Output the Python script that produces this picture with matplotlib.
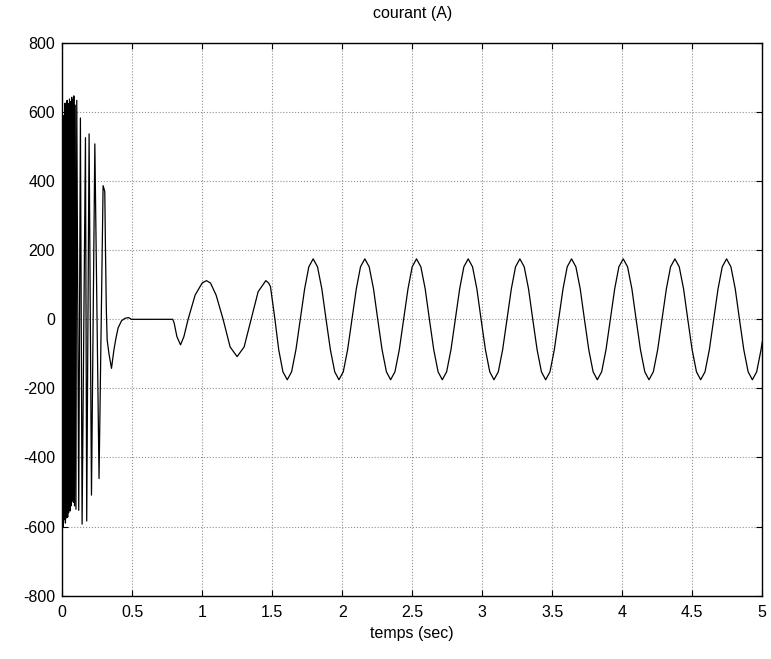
import matplotlib
matplotlib.use("Agg")
import matplotlib.pyplot as plt
import numpy as np

# --- dati: tempo (s) e corrente (A) ---
# transitorio di avviamento
t_start = [0.000, 0.002, 0.006, 0.009, 0.013, 0.017, 0.021, 0.024, 0.028, 0.032,
           0.036, 0.040, 0.044, 0.048, 0.053, 0.057, 0.061, 0.065, 0.069, 0.073,
           0.077, 0.081, 0.084, 0.089, 0.094, 0.099, 0.105, 0.119, 0.131,
           0.143, 0.167, 0.176, 0.193, 0.210, 0.234, 0.264, 0.293, 0.305, 0.310,
           0.316, 0.322, 0.335, 0.353, 0.370, 0.385, 0.400, 0.425, 0.450, 0.475,
           0.495]
i_start = [0, -690, 470, -600, 590, -580, 626, -590, 615, -575,
           634, -573, 625, -560, 638, -555, 630, -540, 643, -526,
           635, -530, 647, -540, 620, -550, 634, -553, 583,
           -593, 526, -584, 537, -509, 508, -461, 387, 370, 200,
           30, -60, -100, -142, -89, -54, -25, -4, 3, 5,
           0]

# ripresa dopo il tratto a zero
t_mid = [0.790, 0.800, 0.820, 0.846, 0.870, 0.900, 0.950, 1.000, 1.031, 1.060,
         1.100, 1.150, 1.200, 1.250, 1.300, 1.350, 1.400, 1.455, 1.475, 1.488,
         1.500, 1.520]
i_mid = [0, -10, -50, -74, -50, 0, 70, 105, 112, 105,
         70, 0, -80, -108, -80, 0, 80, 112, 105, 95,
         60, 0]

# regime permanente
t_reg = [1.547, 1.577, 1.608, 1.639, 1.670, 1.701, 1.732, 1.762, 1.793, 1.824,
         1.855, 1.885, 1.916, 1.947, 1.977, 2.008, 2.039, 2.070, 2.101, 2.131,
         2.162, 2.193, 2.224, 2.254, 2.285, 2.316, 2.346, 2.377, 2.408, 2.439,
         2.470, 2.500, 2.531, 2.562, 2.593, 2.623, 2.654, 2.685, 2.715, 2.746,
         2.777, 2.808, 2.839, 2.869, 2.900, 2.931, 2.962, 2.992, 3.023, 3.054,
         3.084, 3.115, 3.146, 3.177, 3.208, 3.238, 3.269, 3.300, 3.331, 3.361,
         3.392, 3.423, 3.453, 3.484, 3.515, 3.546, 3.577, 3.607, 3.638, 3.669,
         3.700, 3.730, 3.761, 3.792, 3.822, 3.853, 3.884, 3.915, 3.946, 3.976,
         4.007, 4.038, 4.069, 4.099, 4.130, 4.161, 4.191, 4.222, 4.253, 4.284,
         4.315, 4.345, 4.376, 4.407, 4.438, 4.468, 4.499, 4.530, 4.560, 4.591,
         4.622, 4.653, 4.684, 4.714, 4.745, 4.776, 4.807, 4.837, 4.868, 4.899,
         4.929, 4.960, 4.991, 5.000]
i_reg = [-88, -152, -175, -152, -88, 0, 88, 152, 175, 152,
         88, 0, -88, -152, -175, -152, -88, 0, 88, 152,
         175, 152, 88, 0, -88, -152, -175, -152, -88, 0,
         88, 152, 175, 152, 88, 0, -88, -152, -175, -152,
         -88, 0, 88, 152, 175, 152, 88, 0, -88, -152,
         -175, -152, -88, 0, 88, 152, 175, 152, 88, 0,
         -88, -152, -175, -152, -88, 0, 88, 152, 175, 152,
         88, 0, -88, -152, -175, -152, -88, 0, 88, 152,
         175, 152, 88, 0, -88, -152, -175, -152, -88, 0,
         88, 152, 175, 152, 88, 0, -88, -152, -175, -152,
         -88, 0, 88, 152, 175, 152, 88, 0, -88, -152,
         -175, -152, -88, -65]

t = np.array(t_start + t_mid + t_reg)
i = np.array(i_start + i_mid + i_reg)

plt.rcParams['font.family'] = ['Liberation Sans', 'DejaVu Sans']
plt.rcParams['axes.unicode_minus'] = False

fig = plt.figure(figsize=(7.71, 6.59), dpi=100)
ax = fig.add_axes([0.0805, 0.0962, 0.9082, 0.8385])

ax.plot(t, i, color='black', linewidth=0.9)

ax.set_xlim(0, 5)
ax.set_ylim(-800, 800)
ax.set_xticks(np.arange(0, 5.01, 0.5))
ax.set_xticklabels(['0', '0.5', '1', '1.5', '2', '2.5', '3', '3.5', '4', '4.5', '5'])
ax.set_yticks(np.arange(-800, 801, 200))

ax.grid(True, color='#909090', linestyle=':', linewidth=0.8)
ax.tick_params(direction='in', top=True, right=True, labelsize=11.5, length=4)
ax.tick_params(axis='x', pad=7)
ax.tick_params(axis='y', pad=5)
for s in ax.spines.values():
    s.set_linewidth(1.0)

ax.set_title('courant (A)', fontsize=11.5, pad=18)
ax.set_xlabel('temps (sec)', fontsize=11.5, labelpad=4)

plt.savefig('out.png', dpi=100)
